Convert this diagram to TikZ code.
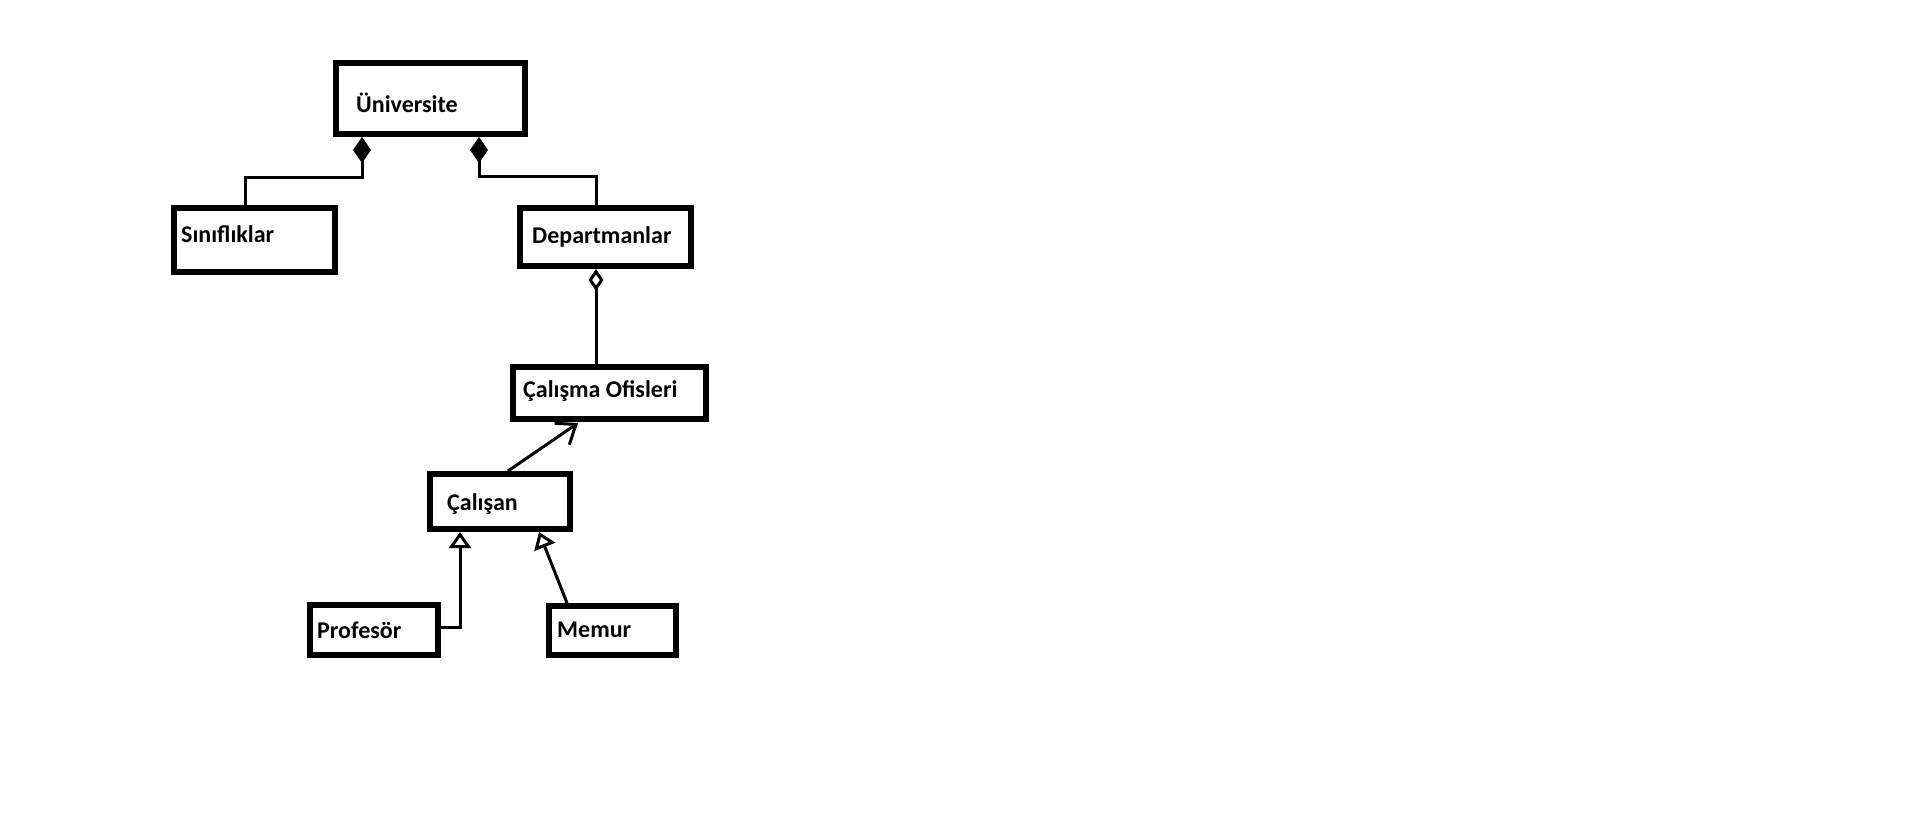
\documentclass[tikz,border=0pt]{standalone}
\usepackage{fontspec}
\setmainfont{Carlito}
\usetikzlibrary{arrows.meta,calc}
\begin{document}
\begin{tikzpicture}[x=1pt,y=-1pt,
  box/.style={draw, line width=6pt, inner sep=0pt},
  lbl/.style={anchor=base west, inner sep=0pt, font=\fontsize{24}{28}\selectfont\bfseries},
  conn/.style={line width=3pt},
  comp/.style={{Diamond[length=26pt,width=18pt]}-},
  aggr/.style={{Diamond[open,length=22pt,width=15pt]}-},
  gen/.style={-{Triangle[open,length=16pt,width=22pt]}},
  assoc/.style={-{Straight Barb[length=17pt,width=26pt]}}]
\fill[white] (0,0) rectangle (1914,820);
\useasboundingbox (0,0) rectangle (1914,820);
% boxes
\node[box, minimum width=189pt, minimum height=71pt] (u) at (430.5,98.5) {};
\node[box, minimum width=161pt, minimum height=64pt] (s) at (254.5,240) {};
\node[box, minimum width=171pt, minimum height=58pt] (d) at (605.5,237) {};
\node[box, minimum width=193pt, minimum height=52pt] (o) at (609.5,393) {};
\node[box, minimum width=140pt, minimum height=55pt] (c) at (500,501.5) {};
\node[box, minimum width=128pt, minimum height=50pt] (p) at (374,630) {};
\node[box, minimum width=127pt, minimum height=49pt] (m) at (612.5,630.5) {};
% labels
\node[lbl] (ut) at (356,112) {Üniversite};
\node[lbl] (st) at (181,242) {Sınıflıklar};
\node[lbl] (dt) at (532,243) {Departmanlar};
\node[lbl] (ot) at (523,397) {Çalışma Ofisleri};
\node[lbl] (ct) at (447,510) {Çalışan};
\node[lbl] (pt) at (317,638) {Profesör};
\node[lbl] (mt) at (557,637) {Memur};
% compositions
\draw[conn, comp] ($(u.south west)+(29,0)$) -- ++(0,40) -| ($(s.north west)+(74,0)$);
\draw[conn, comp] ($(u.south west)+(146,0)$) -- ++(0,39) -| ($(d.north west)+(79,0)$);
% aggregation
\draw[conn, aggr] ($(d.south west)+(79,0)$) -- ($(o.north west)+(86,0)$);
% association
\draw[conn, assoc] ($(c.north west)+(81,0)$) -- ($(o.south west)+(68,1)$);
% generalizations
\draw[conn, gen] ($(p.north east)+(-3,25)$) -| ($(c.south west)+(33,0)$);
\draw[conn, gen] ($(m.north west)+(21,0)$) -- ($(c.south west)+(112,0)$);
\end{tikzpicture}
\end{document}
